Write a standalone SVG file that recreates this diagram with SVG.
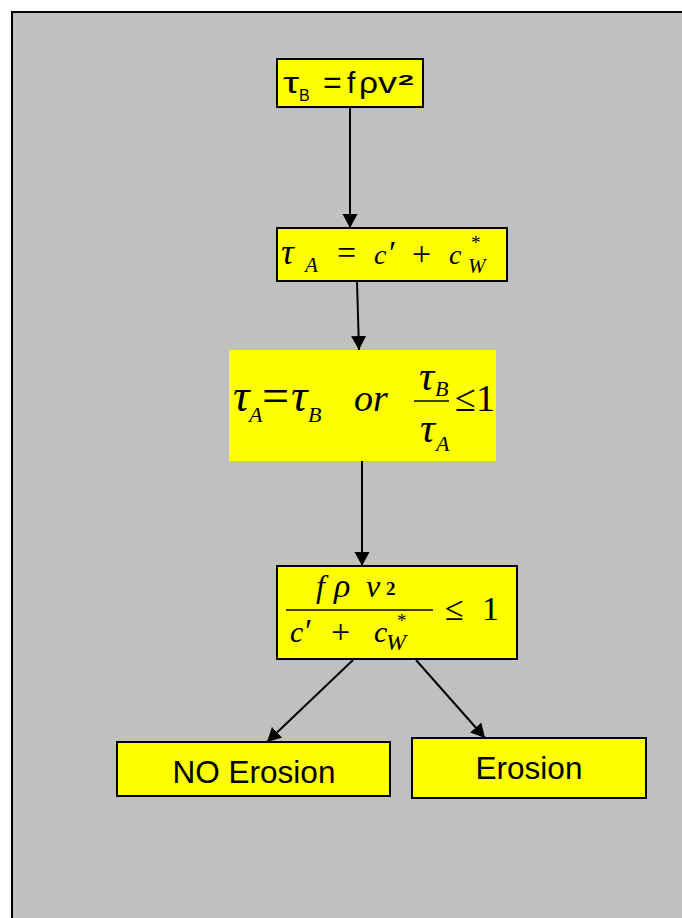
<svg xmlns="http://www.w3.org/2000/svg" width="682" height="918" viewBox="0 0 682 918">
  <style>
    .box { fill: #FFFF00; stroke: #000; stroke-width: 2; }
    .sans { font-family: "Liberation Sans", Arial, sans-serif; fill: #000; }
    .serif { font-family: "Liberation Serif", "Times New Roman", serif; fill: #000; }
    .it { font-style: italic; }
    .conn { stroke: #000; stroke-width: 2; fill: none; marker-end: url(#arrow); }
  </style>
  <defs>
    <marker id="arrow" markerUnits="userSpaceOnUse" markerWidth="15" markerHeight="16" refX="14" refY="7.5" orient="auto">
      <path d="M0,0 L14,7.5 L0,15 Z" fill="#000"/>
    </marker>
  </defs>
  <rect x="0" y="0" width="682" height="918" fill="#FFFFFF"/>
  <rect x="12" y="12" width="690" height="920" fill="#C0C0C0" stroke="#000" stroke-width="2"/>

  <g id="connectors">
    <line class="conn" x1="350" y1="107" x2="350" y2="228"/>
    <line class="conn" x1="357" y1="281" x2="359" y2="350"/>
    <line class="conn" x1="362" y1="457" x2="362" y2="566"/>
    <line class="conn" x1="353" y1="660" x2="267" y2="742"/>
    <line class="conn" x1="416" y1="660" x2="485" y2="738"/>
  </g>

  <g id="tauB">
    <rect class="box" x="277" y="59" width="146" height="48"/>
    <g class="sans">
      <text x="283" y="93" font-size="30" textLength="16" lengthAdjust="spacingAndGlyphs">τ</text>
      <text x="299" y="101" font-size="16">B</text>
      <text x="323" y="93" font-size="32">=</text>
      <text x="347" y="93" font-size="30">f</text>
      <text x="359" y="93" font-size="30" textLength="19" lengthAdjust="spacingAndGlyphs">ρ</text>
      <text x="378" y="93" font-size="30" textLength="19" lengthAdjust="spacingAndGlyphs">v</text>
      <text x="398" y="85" font-size="14" font-weight="bold" textLength="16" lengthAdjust="spacingAndGlyphs">2</text>
    </g>
  </g>

  <g id="tauA">
    <rect class="box" x="277" y="228" width="230" height="53"/>
    <g class="serif" font-size="28">
      <text class="it" x="281" y="264" font-size="36">τ</text>
      <text class="it" x="305" y="272" font-size="21">A</text>
      <text x="337" y="264" font-size="34">=</text>
      <text class="it" x="374" y="264">c</text>
      <text x="389" y="264" font-size="34">′</text>
      <text x="412" y="265" font-size="34">+</text>
      <text class="it" x="449" y="264">c</text>
      <text x="471" y="249" font-size="19">*</text>
      <text class="it" x="468" y="273" font-size="21">W</text>
    </g>
  </g>

  <g id="condition">
    <rect x="229" y="350" width="267" height="111" fill="#FFFF00"/>
    <g class="serif" font-size="38">
      <text class="it" x="233" y="411" font-size="46">τ</text>
      <text class="it" x="249" y="422" font-size="22">A</text>
      <text x="262" y="412" font-size="48">=</text>
      <text class="it" x="291" y="411" font-size="46">τ</text>
      <text class="it" x="308" y="422" font-size="22">B</text>
      <text class="it" x="354" y="411">or</text>
      <text class="it" x="419" y="390" font-size="42">τ</text>
      <text class="it" x="435" y="396" font-size="22">B</text>
      <line x1="414" y1="401" x2="449" y2="401" stroke="#000" stroke-width="1.5"/>
      <text class="it" x="420" y="442" font-size="42">τ</text>
      <text class="it" x="436" y="451" font-size="22">A</text>
      <text x="455" y="411">≤</text>
      <text x="476" y="411">1</text>
    </g>
  </g>

  <g id="ratio">
    <rect class="box" x="277" y="566" width="240" height="93"/>
    <g class="serif" font-size="30">
      <text class="it" x="316" y="597" font-size="32">f</text>
      <text class="it" x="334" y="597" font-size="34">ρ</text>
      <text class="it" x="366" y="597" font-size="32">v</text>
      <text x="386" y="595" font-size="19" font-weight="bold">2</text>
      <line x1="286" y1="610" x2="433" y2="610" stroke="#000" stroke-width="1.5"/>
      <text class="it" x="290" y="642">c</text>
      <text x="305" y="642" font-size="34">′</text>
      <text x="331" y="643" font-size="34">+</text>
      <text class="it" x="374" y="642">c</text>
      <text x="397" y="627" font-size="19">*</text>
      <text class="it" x="386" y="650" font-size="24">W</text>
      <text x="445" y="620" font-size="34">≤</text>
      <text x="482" y="620" font-size="34">1</text>
    </g>
  </g>

  <g id="no-erosion">
    <rect class="box" x="117" y="742" width="273" height="54"/>
    <text class="sans" x="254" y="783" text-anchor="middle" font-size="31.5">NO Erosion</text>
  </g>

  <g id="erosion">
    <rect class="box" x="412" y="738" width="234" height="60"/>
    <text class="sans" x="529" y="779" text-anchor="middle" font-size="31.5">Erosion</text>
  </g>
</svg>
